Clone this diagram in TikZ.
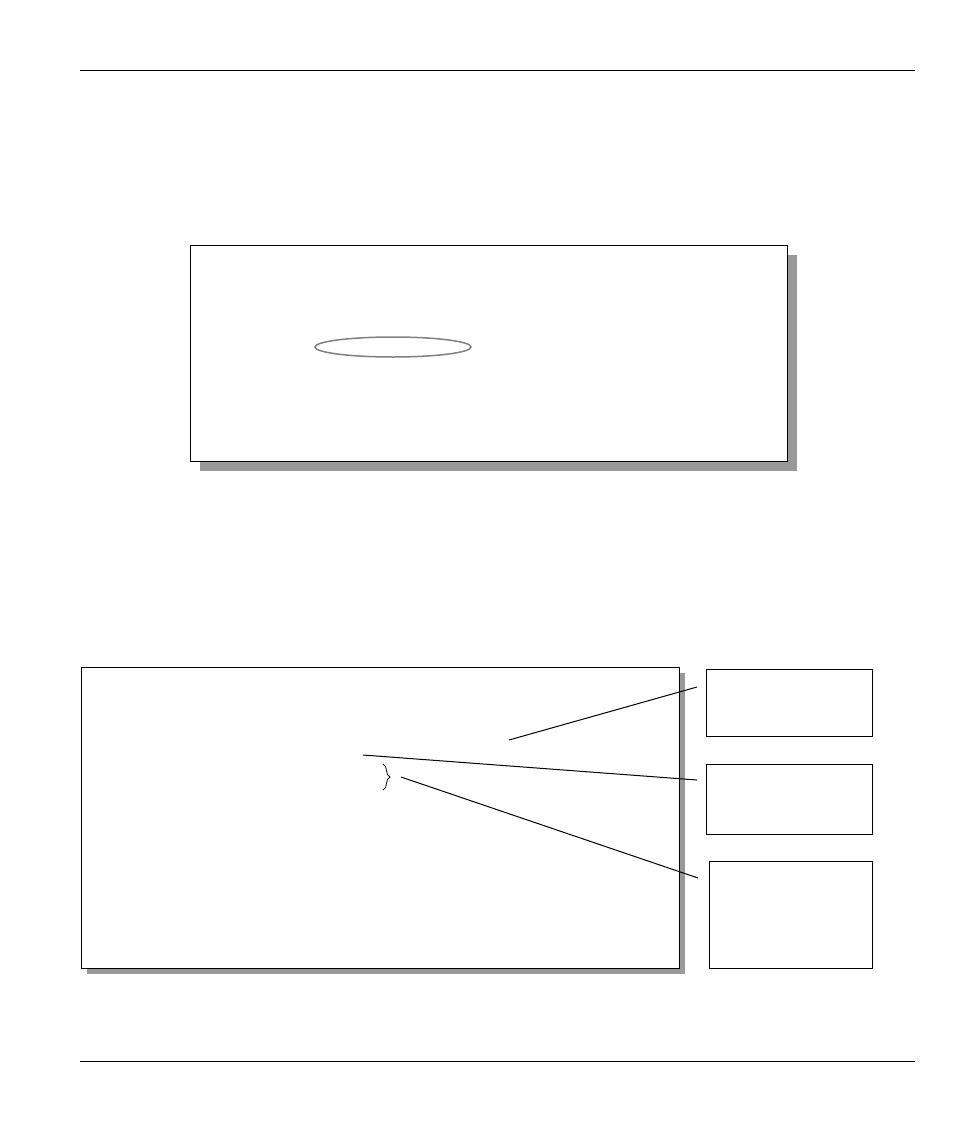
\documentclass[tikz,border=0pt]{standalone}
\usepackage{xcolor}
\usepackage{tikz}
\usetikzlibrary{shapes,arrows,positioning,shadows,decorations.pathreplacing}

\begin{document}
\begin{tikzpicture}[x=1pt,y=-1pt,
    panel/.style={draw, line width=1pt, fill=white, inner sep=0pt},
    shadowed/.style={panel, drop shadow={shadow xshift=#1, shadow yshift=-#1, fill=black!40, opacity=1}},
    sidebox/.style={panel, minimum width=166pt},
    callout/.style={line width=1pt}]
    \useasboundingbox (0,0) rectangle (954,1132);

    % Page rules
    \draw[line width=1pt] (80,71) -- (915,71);
    \draw[line width=1pt] (80,1061) -- (915,1061);

    % Upper screen
    \node[shadowed=10pt, minimum width=597pt, minimum height=216pt] (screen) at (488.5,353) {};
    \node[ellipse, draw=black!50, line width=1.5pt, inner sep=0pt,
          minimum width=156pt, minimum height=20pt] (oval) at (393,347) {};

    % Lower screen
    \node[shadowed=6pt, minimum width=598pt, minimum height=301pt] (menu) at (380,817.5) {};

    % Side boxes
    \node[sidebox, minimum height=67pt] (boxA) at (789,702.5) {};
    \node[sidebox, minimum height=70pt] (boxB) at (789,799) {};
    \node[sidebox, minimum width=163pt, minimum height=107pt] (boxC) at (790.5,914.5) {};

    % Callouts
    \coordinate (fromA) at (509,740);
    \coordinate (toA) at (697,687);
    \coordinate (fromB) at (363,755);
    \coordinate (toB) at (697,780);
    \coordinate (braceTop) at (383,764);
    \coordinate (braceBot) at (383,790);
    \coordinate (fromC) at (401,777);
    \coordinate (toC) at (698,878);
    \draw[callout] (fromA) -- (toA);
    \draw[callout] (fromB) -- (toB);
    \draw[line width=0.8pt, decorate, decoration={brace, amplitude=7pt}] (braceTop) -- (braceBot);
    \draw[callout] (fromC) -- (toC);
\end{tikzpicture}
\end{document}
